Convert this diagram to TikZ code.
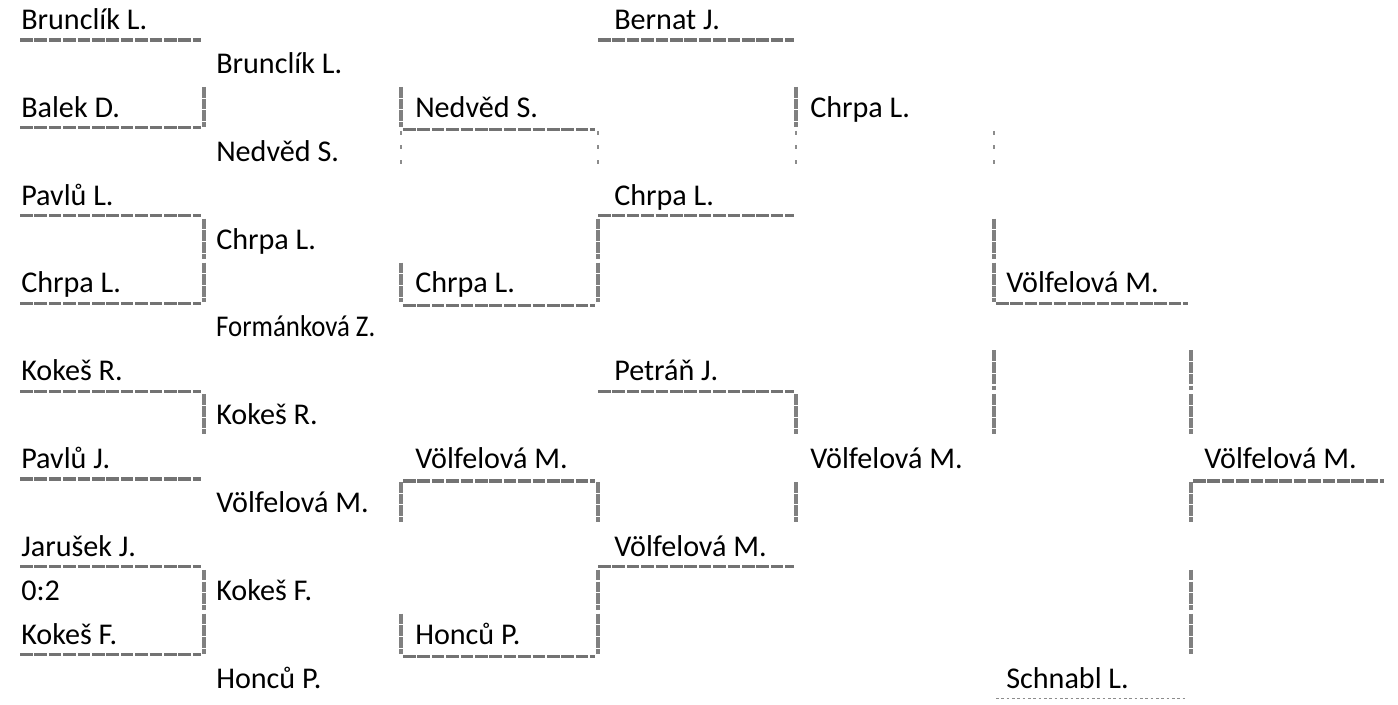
\documentclass[tikz,border=0pt]{standalone}
\usepackage{fontspec}
\setmainfont{Carlito}
\begin{document}
\begin{tikzpicture}[x=0.75pt,y=-0.75pt,
  tname/.style={anchor=base west,inner sep=0pt,font=\fontsize{22.6}{27}\selectfont},
  hline/.style={draw=black!55,line width=2.3pt,dash pattern=on 9.5pt off 1.3pt},
  vline/.style={draw=black!50,line width=2.6pt,dash pattern=on 8pt off 0.8pt},
  faint/.style={draw=black!45,line width=1pt,dash pattern=on 3pt off 8pt}]
\useasboundingbox (0,0) rectangle (1398,704);
% column borders
\def\Xa{20}\def\Xb{204}\def\Xc{401}\def\Xd{598}\def\Xe{796}\def\Xf{994}\def\Xg{1191}\def\Xh{1388}
% texts
\newcommand\nm[4]{\node[tname] (#1) at (#2,{40+43.9*#3-10.5}) {#4};}
\nm{a0}{21}{0}{Brunclík L.}
\nm{a2}{21}{2}{Balek D.}
\nm{a4}{21}{4}{Pavlů L.}
\nm{a6}{21}{6}{Chrpa L.}
\nm{a8}{21}{8}{Kokeš R.}
\nm{a10}{21}{10}{Pavlů J.}
\nm{a12}{21}{12}{Jarušek J.}
\nm{a13}{21}{13}{0:2}
\nm{a14}{21}{14}{Kokeš F.}
\nm{b1}{216}{1}{Brunclík L.}
\nm{b3}{216}{3}{Nedvěd S.}
\nm{b5}{216}{5}{Chrpa L.}
\node[tname,xscale=0.89] (b7) at (216,{40+43.9*7-10.5}) {Formánková Z.};
\nm{b9}{216}{9}{Kokeš R.}
\nm{b11}{216}{11}{Völfelová M.}
\nm{b13}{216}{13}{Kokeš F.}
\nm{b15}{216}{15}{Honců P.}
\nm{c2}{415}{2}{Nedvěd S.}
\nm{c6}{415}{6}{Chrpa L.}
\nm{c10}{415}{10}{Völfelová M.}
\nm{c14}{415}{14}{Honců P.}
\nm{d0}{614}{0}{Bernat J.}
\nm{d4}{614}{4}{Chrpa L.}
\nm{d8}{614}{8}{Petráň J.}
\nm{d12}{614}{12}{Völfelová M.}
\nm{e2}{810}{2}{Chrpa L.}
\nm{e10}{810}{10}{Völfelová M.}
\nm{f6}{1006}{6}{Völfelová M.}
\nm{f15}{1006}{15}{Schnabl L.}
\nm{g10}{1204}{10}{Völfelová M.}
% horizontal borders
\foreach \r in {0,2,4,6,8,10,12,14}{\draw[hline] (\Xa,{40+43.9*\r}) -- (\Xb-3,{40+43.9*\r});}
\foreach \r in {2,6,10,14}{\draw[hline] (\Xc+2,{42+43.9*\r}) -- (\Xd-3,{42+43.9*\r});}
\foreach \r in {0,4,8,12}{\draw[hline] (\Xd,{40+43.9*\r}) -- (\Xe-2,{40+43.9*\r});}
\draw[hline] (\Xf+2,{40+43.9*6}) -- (\Xg-3,{40+43.9*6});
\draw[hline] (\Xg+2,{42+43.9*10}) -- (\Xh-4,{42+43.9*10});
\draw[faint,dash pattern=on 2pt off 2pt] (\Xf+2,{40+43.9*15}) -- (\Xg-6,{40+43.9*15});
% vertical borders
\newcommand\vb[2]{\draw[vline] (#1,{40+43.9*(#2-1)+3}) -- (#1,{40+43.9*#2-1});}
\newcommand\vf[2]{\draw[faint] (#1,{40+43.9*(#2-1)+3}) -- (#1,{40+43.9*#2-1});}
\foreach \r in {2,5,6,9,13,14}{\vb{\Xb}{\r}}
\foreach \r in {2,6,11,14}{\vb{\Xc}{\r}}
\vf{\Xc}{3}
\foreach \r in {5,6,11,13,14}{\vb{\Xd}{\r}}
\vf{\Xd}{3}
\foreach \r in {2,9,11}{\vb{\Xe}{\r}}
\vf{\Xe}{3}
\foreach \r in {5,6,8,9}{\vb{\Xf}{\r}}
\vf{\Xf}{3}
\foreach \r in {8,9,11,13,14}{\vb{\Xg}{\r}}
\end{tikzpicture}
\end{document}
